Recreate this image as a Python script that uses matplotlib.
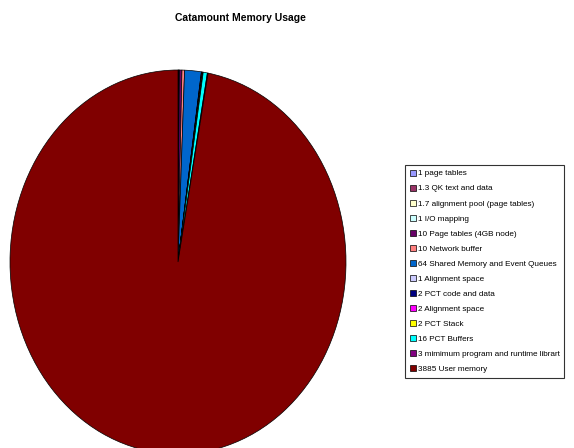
import matplotlib
matplotlib.use("Agg")
import matplotlib.pyplot as plt
from matplotlib.patches import Patch

plt.rcParams['font.family'] = ['Liberation Sans', 'DejaVu Sans']

labels = ["1 page tables", "1.3 QK text and data", "1.7 alignment pool (page tables)",
          "1 I/O mapping", "10 Page tables (4GB node)", "10 Network buffer",
          "64 Shared Memory and Event Queues", "1 Alignment space", "2 PCT code and data",
          "2 Alignment space", "2 PCT Stack", "16 PCT Buffers",
          "3 mimimum program and runtime librart", "3885 User memory"]
sizes = [1, 1.3, 1.7, 1, 10, 10, 64, 1, 2, 2, 2, 16, 3, 3885]
colors = ["#9999FF", "#993366", "#FFFFCC", "#CCFFFF", "#660066", "#FF8080", "#0066CC",
          "#CCCCFF", "#000080", "#FF00FF", "#FFFF00", "#00FFFF", "#800080", "#800000"]

fig = plt.figure(figsize=(5.74, 4.48), dpi=100)
fig.text(240 / 574, 1 - 18 / 448, "Catamount Memory Usage", ha='center', va='center',
         fontsize=7.5, fontweight='bold')

# pie is stretched vertically like the original
ax = fig.add_axes([10 / 574, -6 / 448, 336 / 574, 384 / 448])
ax.pie(sizes, colors=colors, startangle=90, counterclock=False,
       wedgeprops=dict(edgecolor='black', linewidth=0.5))
ax.set_aspect('auto')
ax.set_xlim(-1, 1)
ax.set_ylim(-1, 1)

handles = [Patch(facecolor=c, edgecolor='black', linewidth=0.5) for c in colors]
leg = fig.legend(handles, labels, loc='upper left',
                 bbox_to_anchor=(405 / 574, 1 - 165 / 448),
                 fontsize=5.9, frameon=True, fancybox=False, edgecolor='black',
                 handlelength=0.75, handleheight=0.75, handletextpad=0.3,
                 labelspacing=0.88, borderpad=0.55, borderaxespad=0)
leg.get_frame().set_linewidth(0.8)

fig.savefig("out.png", dpi=100)
